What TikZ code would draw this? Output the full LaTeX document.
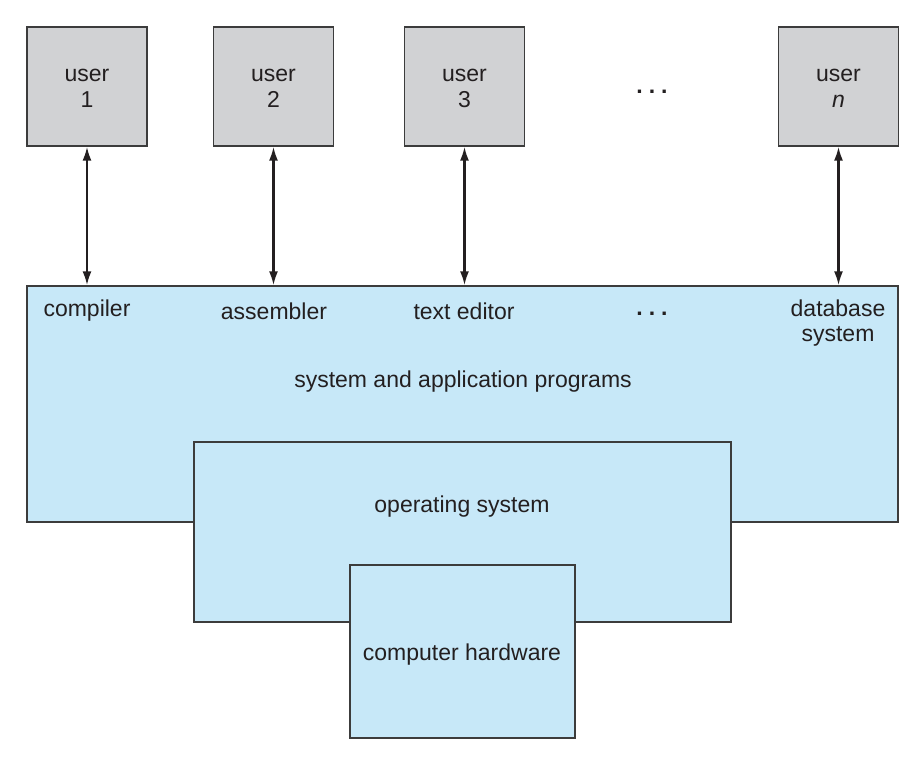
\documentclass[tikz,border=0pt]{standalone}
\usepackage{fontspec}
\setmainfont{Liberation Sans}
\usetikzlibrary{arrows.meta}
\definecolor{usergray}{HTML}{D1D2D4}
\definecolor{progblue}{HTML}{C7E8F8}
\definecolor{edge}{HTML}{3C3C3C}
\definecolor{ink}{HTML}{231F20}
\tikzset{
  userbox/.style={draw=edge, line width=1.3pt, fill=usergray, minimum width=120pt, minimum height=119pt, inner sep=0pt},
  usertext/.style={text=ink, font=\fontsize{23}{26}\selectfont, align=center, inner sep=0pt, yshift=-2pt},
  layerbox/.style={draw=edge, line width=1.3pt, fill=progblue, inner sep=0pt},
  lbl/.style={text=ink, font=\fontsize{23}{25}\selectfont, align=center, inner sep=0pt},
  link/.style={draw=ink, line width=2.2pt, {Latex[length=14pt,width=9pt]}-{Latex[length=14pt,width=9pt]}},
  dots/.style={text=ink, font=\fontsize{23}{26}\selectfont\bfseries, inner sep=0pt}
}
\begin{document}
\begin{tikzpicture}[x=1pt,y=1pt]
\useasboundingbox (0,0) rectangle (923,766);
% users
\node[userbox] (u1) at (87,679.5) {};
\node[userbox] (u2) at (273.5,679.5) {};
\node[userbox] (u3) at (464.5,679.5) {};
\node[userbox] (un) at (838.5,679.5) {};
\node[usertext] (t1) at (u1.center) {user\\1};
\node[usertext] (t2) at (u2.center) {user\\2};
\node[usertext] (t3) at (u3.center) {user\\3};
\node[usertext] (tn) at (un.center) {user\\\textit{n}};
\node[dots] (d1) at (652,674) {.\hspace{6pt}.\hspace{6pt}.};
% layers
\node[layerbox, minimum width=871pt, minimum height=236pt] (apps) at (462.5,362) {};
\node[layerbox, minimum width=537pt, minimum height=180pt] (os) at (462.5,234) {};
\node[layerbox, minimum width=225pt, minimum height=173pt] (hw) at (462.5,114.5) {};
% labels
\node[lbl] (lc) at (87,455) {compiler};
\node[lbl] (la) at (274,455) {assembler};
\node[lbl] (lt) at (464,455) {text editor};
\node[dots] (d2) at (652,452) {.\hspace{6pt}.\hspace{6pt}.};
\node[lbl] (ld) at (838,443) {database\\system};
\node[lbl] (lsys) at (463,384) {system and application programs};
\node[lbl] (los) at (462,259) {operating system};
\node[lbl] (lhw) at (462,111) {computer hardware};
% connectors
\draw[link] (u1.south) -- (u1.south |- apps.north);
\draw[link] (u2.south) -- (u2.south |- apps.north);
\draw[link] (u3.south) -- (u3.south |- apps.north);
\draw[link] (un.south) -- (un.south |- apps.north);
\end{tikzpicture}
\end{document}
